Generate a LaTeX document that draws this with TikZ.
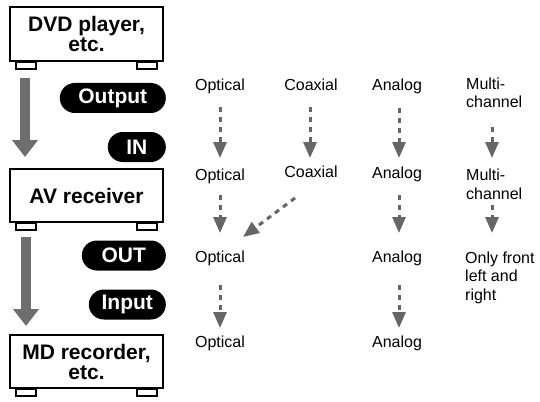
\documentclass[tikz,border=0pt]{standalone}
\usepackage{fontspec}
\setmainfont{Liberation Sans}
\usetikzlibrary{arrows.meta,calc}
\definecolor{dashgray}{HTML}{666666}
\definecolor{biggray}{HTML}{6E6E6E}
\begin{document}
\begin{tikzpicture}[x=1pt,y=-1pt,
  devbox/.style={draw=black,line width=2pt,fill=white,minimum width=153pt,inner sep=0pt,align=center,
    font=\fontsize{21}{20}\selectfont\bfseries},
  foot/.style={draw=black,line width=1.8pt,fill=white},
  pill/.style={fill=black,rounded corners=15pt,minimum height=30pt,inner sep=0pt,text=white,anchor=east,
    font=\fontsize{21}{21}\selectfont\bfseries},
  lbl/.style={anchor=base,inner sep=0pt,font=\fontsize{16}{18.5}\selectfont},
  lblm/.style={anchor=base west,inner sep=0pt,align=left,font=\fontsize{16}{18.5}\selectfont},
  dar/.style={draw=dashgray,line width=3pt,dash pattern=on 5pt off 5pt,
    -{Triangle[width=13pt,length=16pt,fill=dashgray]}},
  bigarr/.style={draw=biggray,line width=10pt,-{Triangle[width=25pt,length=17pt,fill=biggray]}}
]
\useasboundingbox[fill=white] (0,0) rectangle (540,401);

% devices
\node[devbox,minimum height=54pt] (dvd) at (86.5,34) {DVD player,\\etc.};
\node[devbox,minimum height=53pt] (av) at (86.5,195.5) {AV receiver};
\node[devbox,minimum height=53pt] (md) at (86.5,361.5) {MD recorder,\\etc.};
\foreach \b in {dvd,av,md}{
  \draw[foot] ($(\b.south west)+(7,0)$) rectangle ++(20,7);
  \draw[foot] ($(\b.south east)+(-27,0)$) rectangle ++(20,7);
}

% big arrows
\coordinate (a1s) at ($(dvd.south west)+(16,16)$);
\coordinate (a1e) at ($(av.north west)+(16,-11)$);
\coordinate (a2s) at ($(av.south west)+(17,14)$);
\coordinate (a2e) at ($(md.north west)+(17,-8)$);
\draw[bigarr] (a1s) -- (a1e);
\draw[bigarr] (a2s) -- (a2e);

% pills
\node[pill,minimum width=106pt] (pout) at (166,98) {Output};
\node[pill,minimum width=58pt] (pin) at (166,147) {IN};
\node[pill,minimum width=84pt] (pOUT) at (166,255.5) {OUT};
\node[pill,minimum width=77pt] (pinput) at (166,304.5) {Input};

% labels row 1
\node[lbl] (o1) at (220,91) {Optical};
\node[lbl] (c1) at (311,91) {Coaxial};
\node[lbl] (n1) at (397,91) {Analog};
\node[lblm] (m1) at (466,108) {Multi-\\channel};
% row 2
\node[lbl] (o2) at (220,180) {Optical};
\node[lbl] (c2) at (311,177) {Coaxial};
\node[lbl] (n2) at (397,178) {Analog};
\node[lblm] (m2) at (466,199) {Multi-\\channel};
% row 3
\node[lbl] (o3) at (220,262) {Optical};
\node[lbl] (n3) at (397,262) {Analog};
\node[lblm] (m3) at (465,300) {Only front\\left and\\right};
% row 4
\node[lbl] (o4) at (220,347) {Optical};
\node[lbl] (n4) at (397,347) {Analog};

% dashed arrows
\draw[dar] ($(o1.base)+(0,16)$) -- ($(o2.base)+(0,-22)$);
\draw[dar] ($(c1.base)+(-1,16)$) -- ($(c2.base)+(-1,-19)$);
\draw[dar] ($(n1.base)+(2,17)$) -- ($(n2.base)+(2,-20)$);
\draw[dar] ($(m1.base west)+(26,19)$) -- ($(m2.base west)+(26,-41)$);
\draw[dar] ($(o2.base)+(0,15)$) -- ($(o3.base)+(0,-29)$);
\draw[dar] ($(c2.base)+(-16,21)$) -- ($(o3.base)+(23,-25)$);
\draw[dar] ($(n2.base)+(2,17)$) -- ($(n3.base)+(2,-29)$);
\draw[dar] ($(m2.base west)+(26,6)$) -- ($(m3.base west)+(27,-67)$);
\draw[dar] ($(o3.base)+(0,23)$) -- ($(o4.base)+(0,-19)$);
\draw[dar] ($(n3.base)+(2,23)$) -- ($(n4.base)+(2,-19)$);
\end{tikzpicture}
\end{document}
